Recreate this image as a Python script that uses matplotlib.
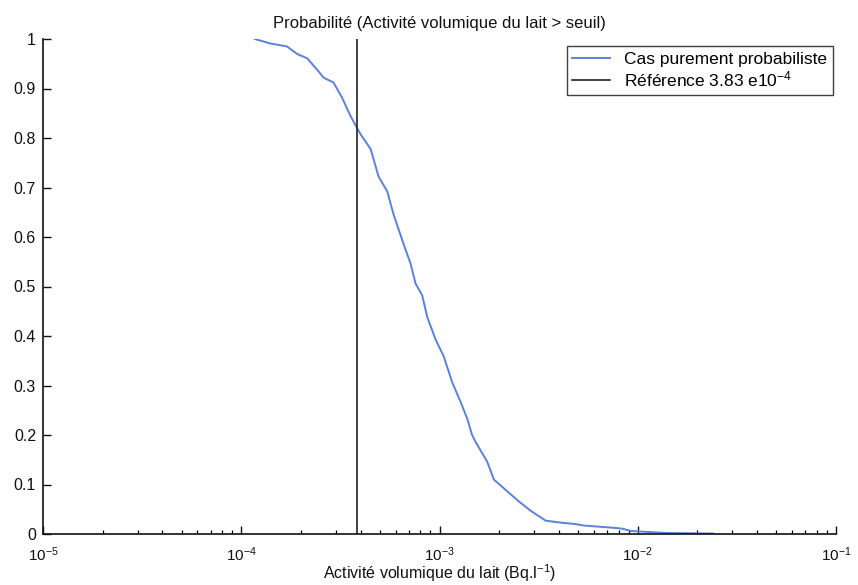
import matplotlib
matplotlib.use("Agg")
import matplotlib.pyplot as plt
from matplotlib.ticker import LogLocator, FixedLocator, NullFormatter

plt.rcParams['font.family'] = ['Liberation Sans', 'DejaVu Sans']
plt.rcParams['mathtext.fontset'] = 'custom'
plt.rcParams['mathtext.rm'] = 'Liberation Sans'
plt.rcParams['mathtext.it'] = 'Liberation Sans:italic'
plt.rcParams['mathtext.bf'] = 'Liberation Sans:bold'

# Exceedance probability of milk volumic activity (Bq/l)
activity = [1.17e-4, 1.40e-4, 1.70e-4, 1.91e-4, 2.15e-4, 2.45e-4, 2.60e-4,
            2.92e-4, 3.22e-4, 3.55e-4, 3.99e-4, 4.49e-4, 4.93e-4, 5.45e-4,
            5.87e-4, 6.60e-4, 7.15e-4, 7.57e-4, 8.18e-4, 8.66e-4, 9.55e-4,
            1.05e-3, 1.16e-3, 1.28e-3, 1.38e-3, 1.46e-3, 1.52e-3, 1.74e-3,
            1.88e-3, 2.20e-3, 2.51e-3, 2.88e-3, 3.43e-3, 4.08e-3, 4.86e-3,
            5.37e-3, 7.30e-3, 8.30e-3, 9.30e-3, 1.40e-2, 2.40e-2]
probability = [1.000, 0.991, 0.985, 0.970, 0.961, 0.935, 0.922,
               0.912, 0.882, 0.845, 0.808, 0.778, 0.722, 0.692,
               0.645, 0.585, 0.546, 0.506, 0.482, 0.439, 0.393,
               0.359, 0.306, 0.266, 0.233, 0.200, 0.186, 0.146,
               0.110, 0.086, 0.066, 0.047, 0.027, 0.023, 0.020,
               0.017, 0.013, 0.011, 0.006, 0.002, 0.001]
reference_value = 3.83e-4

y_ticks = [0, 0.1, 0.2, 0.3, 0.4, 0.5, 0.6, 0.7, 0.8, 0.9, 1]
y_tick_labels = ['0', '0.1', '0.2', '0.3', '0.4', '0.5', '0.6', '0.7', '0.8', '0.9', '1']
x_ticks = [1e-5, 1e-4, 1e-3, 1e-2, 1e-1]
x_tick_labels = [r'$10^{-5}$', r'$10^{-4}$', r'$10^{-3}$', r'$10^{-2}$', r'$10^{-1}$']

fig = plt.figure(figsize=(8.58, 5.85), dpi=100)
left_px, right_px, top_px, bottom_px = 43, 836, 39, 534
ax = fig.add_axes([left_px / 858, 1 - bottom_px / 585,
                   (right_px - left_px) / 858, (bottom_px - top_px) / 585])

ax.plot(activity, probability, color='#5b80de', lw=1.4,
        label='Cas purement probabiliste')
ax.axvline(reference_value, color='#222222', lw=1.2,
           label=r'Référence 3.83 e10$^{-4}$')

ax.set_xscale('log')
ax.set_xlim(1e-5, 1e-1)
ax.set_ylim(0, 1)

ax.xaxis.set_major_locator(FixedLocator(x_ticks))
ax.set_xticklabels(x_tick_labels)
ax.xaxis.set_minor_locator(LogLocator(base=10, subs=range(2, 10)))
ax.xaxis.set_minor_formatter(NullFormatter())
ax.set_yticks(y_ticks)
ax.set_yticklabels(y_tick_labels)

for side in ('top', 'right'):
    ax.spines[side].set_visible(False)
for side in ('left', 'bottom'):
    ax.spines[side].set_linewidth(1.2)
    ax.spines[side].set_color('#111111')

ax.tick_params(axis='both', which='major', direction='in', length=6,
               width=1.0, colors='#111111')
ax.tick_params(axis='y', which='major', pad=5, labelsize=11.5)
ax.tick_params(axis='x', which='major', pad=8, labelsize=11)
ax.tick_params(axis='x', which='minor', direction='in', length=3, width=0.9)

ax.set_title('Probabilité (Activité volumique du lait > seuil)',
             fontsize=12, pad=8, color='#111111')
ax.set_xlabel(r'Activité volumique du lait (Bq.l$^{-1}$)',
              fontsize=11.5, color='#111111', va='bottom')
ax.xaxis.set_label_coords((left_px + right_px) / 2 / 858, 1 / 585,
                          transform=fig.transFigure)

leg = ax.legend(loc='upper right', bbox_to_anchor=(1.0, 0.992),
                fontsize=12.5, frameon=True, fancybox=False, borderpad=0.3,
                handlelength=2.2, handletextpad=0.8, labelspacing=0.15,
                borderaxespad=0.2)
leg.get_frame().set_edgecolor('#111111')
leg.get_frame().set_linewidth(1.0)

fig.savefig('out.png', dpi=100, facecolor='white')
